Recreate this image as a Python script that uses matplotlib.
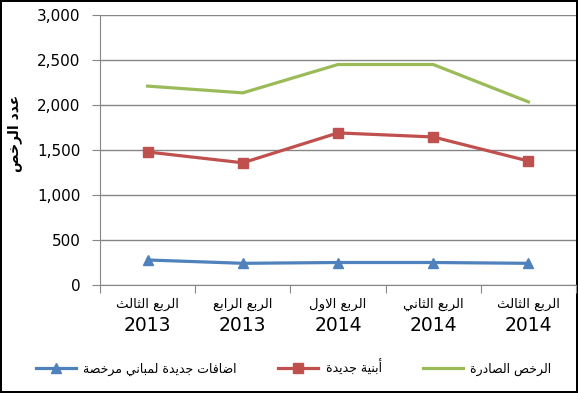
import matplotlib.pyplot as plt
import numpy as np

# data
quarters = ["الربع الثالث", "الربع الرابع", "الربع الاول", "الربع الثاني", "الربع الثالث"]
years = ["2013", "2013", "2014", "2014", "2014"]
issued = [2210, 2135, 2450, 2450, 2035]        # الرخص الصادرة
new_buildings = [1478, 1358, 1690, 1645, 1378]  # أبنية جديدة
additions = [278, 241, 250, 250, 241]           # اضافات جديدة لمباني مرخصة

names = ["اضافات جديدة لمباني مرخصة", "أبنية جديدة", "الرخص الصادرة"]
ylabel = "عدد الرخص"

# minimal arabic shaping (no raqm in matplotlib): isolated, final, initial, medial
FORMS = {
    'ا': ('\uFE8D', '\uFE8E'), 'أ': ('\uFE83', '\uFE84'),
    'د': ('\uFEA9', '\uFEAA'), 'ر': ('\uFEAD', '\uFEAE'),
    'و': ('\uFEED', '\uFEEE'), 'ة': ('\uFE93', '\uFE94'),
    'ب': ('\uFE8F', '\uFE90', '\uFE91', '\uFE92'),
    'ت': ('\uFE95', '\uFE96', '\uFE97', '\uFE98'),
    'ث': ('\uFE99', '\uFE9A', '\uFE9B', '\uFE9C'),
    'ج': ('\uFE9D', '\uFE9E', '\uFE9F', '\uFEA0'),
    'خ': ('\uFEA5', '\uFEA6', '\uFEA7', '\uFEA8'),
    'ص': ('\uFEB9', '\uFEBA', '\uFEBB', '\uFEBC'),
    'ض': ('\uFEBD', '\uFEBE', '\uFEBF', '\uFEC0'),
    'ع': ('\uFEC9', '\uFECA', '\uFECB', '\uFECC'),
    'ف': ('\uFED1', '\uFED2', '\uFED3', '\uFED4'),
    'ل': ('\uFEDD', '\uFEDE', '\uFEDF', '\uFEE0'),
    'م': ('\uFEE1', '\uFEE2', '\uFEE3', '\uFEE4'),
    'ن': ('\uFEE5', '\uFEE6', '\uFEE7', '\uFEE8'),
    'ي': ('\uFEF1', '\uFEF2', '\uFEF3', '\uFEF4'),
}
LAMALEF = {'ا': ('\uFEFB', '\uFEFC'), 'أ': ('\uFEF7', '\uFEF8')}


def ar(s):
    out = []
    i = 0
    while i < len(s):
        c = s[i]
        if c not in FORMS:
            out.append(c)
            i += 1
            continue
        prev = s[i - 1] if i > 0 else ''
        jp = prev in FORMS and len(FORMS[prev]) == 4
        if c == 'ل' and i + 1 < len(s) and s[i + 1] in LAMALEF:
            iso, fin = LAMALEF[s[i + 1]]
            out.append(fin if jp else iso)
            i += 2
            continue
        nxt = s[i + 1] if i + 1 < len(s) else ''
        f = FORMS[c]
        jn = len(f) == 4 and nxt in FORMS
        if jp and jn:
            g = f[3]
        elif jp:
            g = f[1]
        elif jn:
            g = f[2]
        else:
            g = f[0]
        out.append(g)
        i += 1
    return ''.join(reversed(out))


grid_c = '#868686'
fig = plt.figure(figsize=(5.78, 3.93), dpi=100, linewidth=1.5, edgecolor='black')
ax = fig.add_axes([0.173, 0.2748, 0.8235, 0.687])

x = np.arange(len(quarters))
l1, = ax.plot(x, additions, color='#4F81BD', lw=2.3, marker='^', ms=7.5)
l2, = ax.plot(x, new_buildings, color='#C0504D', lw=2.3, marker='s', ms=7.5)
l3, = ax.plot(x, issued, color='#9BBB59', lw=2.3)

ax.set_xlim(-0.5, len(quarters) - 0.5)
ax.set_ylim(0, 3000)
ax.set_yticks(range(0, 3001, 500))
ax.set_yticklabels([f"{v:,}" for v in range(0, 3001, 500)], fontsize=11)
ax.yaxis.grid(True, color=grid_c, lw=1)
ax.set_axisbelow(True)

ax.set_xticks(np.arange(-0.5, len(quarters), 1))
ax.set_xticklabels([])
ax.tick_params(axis='x', length=6, color=grid_c, direction='out')
ax.tick_params(axis='y', length=6, color=grid_c, direction='out', pad=8)
for s in ['top', 'right']:
    ax.spines[s].set_visible(False)
for s in ['left', 'bottom']:
    ax.spines[s].set_color(grid_c)

trans = ax.get_xaxis_transform()
for i, (q, y) in enumerate(zip(quarters, years)):
    ax.annotate(ar(q), (i, 0), xycoords=trans, xytext=(0, -14), textcoords='offset points',
                ha='center', va='center', fontsize=9.5)
    ax.annotate(y, (i, 0), xycoords=trans, xytext=(0, -29), textcoords='offset points',
                ha='center', va='center', fontsize=13.5)

fig.text(15 / 578, 1 - 133 / 393, ar(ylabel), rotation=90, ha='center', va='center',
         fontsize=10, fontweight='bold')

fig.legend([l1, l2, l3], [ar(n) for n in names], loc='center', bbox_to_anchor=(0.508, 0.064),
           ncol=3, frameon=False, fontsize=9, handlelength=3.2, handletextpad=0.6,
           columnspacing=3.3)

fig.savefig('out.png', dpi=100)
